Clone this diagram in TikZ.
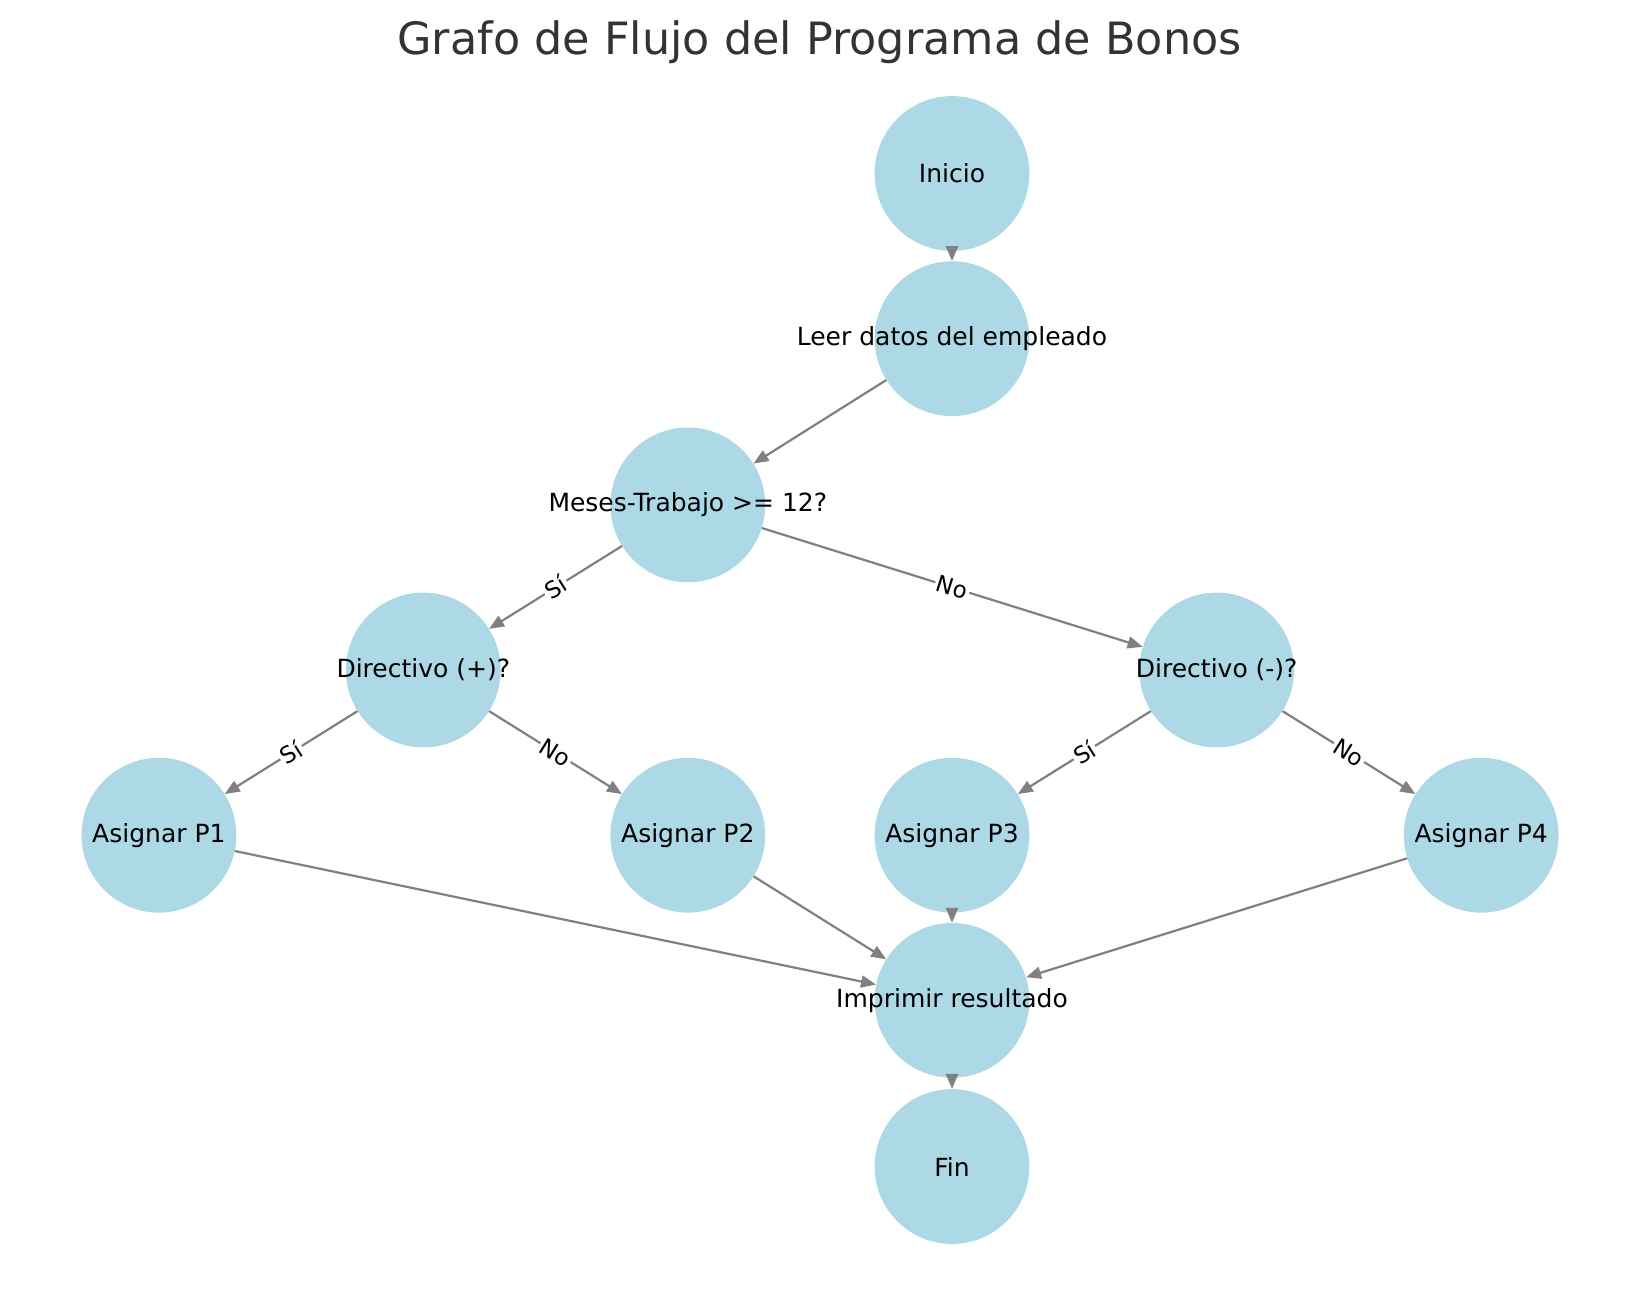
\documentclass[tikz,border=0pt]{standalone}
\usepackage{fontspec}
\setmainfont{DejaVu Sans}
\usetikzlibrary{arrows.meta}
\definecolor{nodeblue}{HTML}{ADD8E6}
\definecolor{edgegray}{HTML}{808080}
\definecolor{titlegray}{HTML}{333333}
\begin{document}
\begin{tikzpicture}[x=1pt,y=-1pt,
  bub/.style={circle,fill=nodeblue,draw=none,minimum size=154.8pt,inner sep=0pt},
  txt/.style={font=\fontsize{25}{30}\selectfont,text=black,inner sep=0pt},
  edge/.style={draw=edgegray,line width=2.2pt,-{Stealth[length=15pt,width=12pt,inset=0pt]}},
  elab/.style={font=\fontsize{23}{27}\selectfont,fill=white,inner sep=2pt,sloped,pos=0.5}]
\useasboundingbox (0,0) rectangle (1639,1290);
\node[font=\fontsize{44.5}{52}\selectfont,text=titlegray] (title) at (819.5,42) {Grafo de Flujo del Programa de Bonos};
% circles
\node[bub] (ini) at (952,173.5) {};
\node[bub] (lee) at (952,338.7) {};
\node[bub] (mes) at (687.8,504.9) {};
\node[bub] (dp) at (423.3,670) {};
\node[bub] (dm) at (1216.7,670) {};
\node[bub] (p1) at (158.9,835.2) {};
\node[bub] (p2) at (687.8,835.2) {};
\node[bub] (p3) at (952,835.2) {};
\node[bub] (p4) at (1481.2,835.2) {};
\node[bub] (imp) at (952,1000.4) {};
\node[bub] (fin) at (952,1166.5) {};
% edges
\draw[edge] (ini) -- (lee);
\draw[edge] (lee) -- (mes);
\draw[edge] (mes) -- node[elab] {Sí} (dp);
\draw[edge] (mes) -- node[elab] {No} (dm);
\draw[edge] (dp) -- node[elab] {Sí} (p1);
\draw[edge] (dp) -- node[elab] {No} (p2);
\draw[edge] (dm) -- node[elab] {Sí} (p3);
\draw[edge] (dm) -- node[elab] {No} (p4);
\draw[edge] (p1) -- (imp);
\draw[edge] (p2) -- (imp);
\draw[edge] (p3) -- (imp);
\draw[edge] (p4) -- (imp);
\draw[edge] (imp) -- (fin);
% texts
\node[txt] (tini) at (ini) {Inicio};
\node[txt] (tlee) at (lee) {Leer datos del empleado};
\node[txt] (tmes) at (mes) {Meses-Trabajo >= 12?};
\node[txt] (tdp) at (dp) {Directivo (+)?};
\node[txt] (tdm) at (dm) {Directivo (-)?};
\node[txt] (tp1) at (p1) {Asignar P1};
\node[txt] (tp2) at (p2) {Asignar P2};
\node[txt] (tp3) at (p3) {Asignar P3};
\node[txt] (tp4) at (p4) {Asignar P4};
\node[txt] (timp) at (imp) {Imprimir resultado};
\node[txt] (tfin) at (fin) {Fin};
\end{tikzpicture}
\end{document}
